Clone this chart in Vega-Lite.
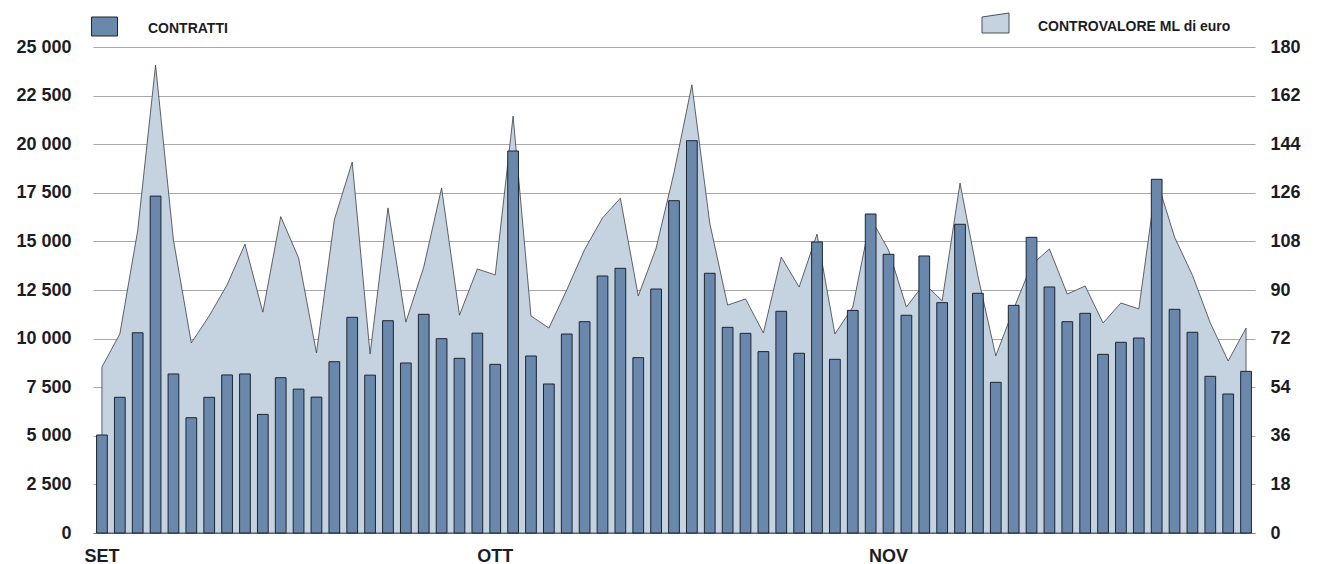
{
  "$schema": "https://vega.github.io/schema/vega-lite/v6.json",
  "autosize": {"type": "none"},
  "width": 1162,
  "height": 486,
  "padding": {"left": 93, "top": 47, "right": 64, "bottom": 31},
  "background": "#ffffff",
  "config": {
    "view": {"stroke": null},
    "font": "Liberation Sans",
    "axis": {"labelFont": "Liberation Sans", "labelFontWeight": "bold", "labelFontSize": 18, "labelColor": "#1a1d26"},
    "legend": {"labelFont": "Liberation Sans", "labelFontWeight": "bold", "labelFontSize": 14, "labelColor": "#1a1d26", "padding": 0, "labelLimit": 0}
  },
  "data": {
    "values": [
      {"n": 1, "contratti": 5040, "controvalore": 61.5},
      {"n": 2, "contratti": 6980, "controvalore": 73.7},
      {"n": 3, "contratti": 10300, "controvalore": 112},
      {"n": 4, "contratti": 17330, "controvalore": 173.3},
      {"n": 5, "contratti": 8180, "controvalore": 108.5},
      {"n": 6, "contratti": 5930, "controvalore": 70.4},
      {"n": 7, "contratti": 6980, "controvalore": 80.4},
      {"n": 8, "contratti": 8130, "controvalore": 91.9},
      {"n": 9, "contratti": 8180, "controvalore": 107},
      {"n": 10, "contratti": 6100, "controvalore": 81.8},
      {"n": 11, "contratti": 7990, "controvalore": 117.2},
      {"n": 12, "contratti": 7400, "controvalore": 101.9},
      {"n": 13, "contratti": 6990, "controvalore": 66.7},
      {"n": 14, "contratti": 8810, "controvalore": 116},
      {"n": 15, "contratti": 11095, "controvalore": 137.4},
      {"n": 16, "contratti": 8120, "controvalore": 66.3},
      {"n": 17, "contratti": 10920, "controvalore": 120.4},
      {"n": 18, "contratti": 8745, "controvalore": 78.1},
      {"n": 19, "contratti": 11250, "controvalore": 98.5},
      {"n": 20, "contratti": 9995, "controvalore": 127.8},
      {"n": 21, "contratti": 8985, "controvalore": 80.7},
      {"n": 22, "contratti": 10280, "controvalore": 97.8},
      {"n": 23, "contratti": 8675, "controvalore": 95.6},
      {"n": 24, "contratti": 19650, "controvalore": 154.4},
      {"n": 25, "contratti": 9105, "controvalore": 80.4},
      {"n": 26, "contratti": 7665, "controvalore": 75.9},
      {"n": 27, "contratti": 10235, "controvalore": 90},
      {"n": 28, "contratti": 10870, "controvalore": 105},
      {"n": 29, "contratti": 13220, "controvalore": 116.7},
      {"n": 30, "contratti": 13615, "controvalore": 124},
      {"n": 31, "contratti": 9020, "controvalore": 87.8},
      {"n": 32, "contratti": 12550, "controvalore": 105.5},
      {"n": 33, "contratti": 17095, "controvalore": 133.5},
      {"n": 34, "contratti": 20180, "controvalore": 166},
      {"n": 35, "contratti": 13360, "controvalore": 114.8},
      {"n": 36, "contratti": 10580, "controvalore": 84.4},
      {"n": 37, "contratti": 10270, "controvalore": 86.7},
      {"n": 38, "contratti": 9330, "controvalore": 74.1},
      {"n": 39, "contratti": 11405, "controvalore": 102.2},
      {"n": 40, "contratti": 9245, "controvalore": 91.1},
      {"n": 41, "contratti": 14970, "controvalore": 110.7},
      {"n": 42, "contratti": 8935, "controvalore": 73.7},
      {"n": 43, "contratti": 11450, "controvalore": 83.7},
      {"n": 44, "contratti": 16410, "controvalore": 116.7},
      {"n": 45, "contratti": 14335, "controvalore": 104.8},
      {"n": 46, "contratti": 11200, "controvalore": 83.7},
      {"n": 47, "contratti": 14250, "controvalore": 92.4},
      {"n": 48, "contratti": 11850, "controvalore": 86},
      {"n": 49, "contratti": 15880, "controvalore": 129.6},
      {"n": 50, "contratti": 12330, "controvalore": 95.2},
      {"n": 51, "contratti": 7750, "controvalore": 65.6},
      {"n": 52, "contratti": 11710, "controvalore": 83},
      {"n": 53, "contratti": 15210, "controvalore": 99.3},
      {"n": 54, "contratti": 12655, "controvalore": 105.2},
      {"n": 55, "contratti": 10870, "controvalore": 88.5},
      {"n": 56, "contratti": 11300, "controvalore": 91.5},
      {"n": 57, "contratti": 9190, "controvalore": 77.8},
      {"n": 58, "contratti": 9810, "controvalore": 85.2},
      {"n": 59, "contratti": 10030, "controvalore": 83},
      {"n": 60, "contratti": 18195, "controvalore": 131},
      {"n": 61, "contratti": 11505, "controvalore": 109.6},
      {"n": 62, "contratti": 10325, "controvalore": 95.5},
      {"n": 63, "contratti": 8060, "controvalore": 77.8},
      {"n": 64, "contratti": 7150, "controvalore": 63.7},
      {"n": 65, "contratti": 8315, "controvalore": 75.9}
    ]
  },
  "encoding": {
    "x": {
      "field": "n",
      "type": "ordinal",
      "scale": {"type": "band", "paddingInner": 0.4, "paddingOuter": 0.2},
      "axis": {
        "title": null,
        "values": [1, 23, 45],
        "labelExpr": "datum.value == 1 ? 'SET' : datum.value == 23 ? 'OTT' : 'NOV'",
        "labelAngle": 0,
        "ticks": false,
        "domain": true,
        "domainColor": "#7f7f7f",
        "domainWidth": 1,
        "labelPadding": 14,
        "grid": false
      }
    }
  },
  "layer": [
    {
      "mark": {"type": "area", "stroke": "#3a3f48", "strokeWidth": 0.8, "strokeJoin": "miter"},
      "encoding": {
        "y": {
          "field": "controvalore",
          "type": "quantitative",
          "scale": {"domain": [0, 180], "nice": false, "zero": true},
          "axis": {
            "orient": "right",
            "title": null,
            "values": [0, 18, 36, 54, 72, 90, 108, 126, 144, 162, 180],
            "grid": false,
            "domain": false,
            "ticks": false,
            "labelPadding": 15
          }
        },
        "fill": {
          "datum": "CONTROVALORE ML di euro",
          "type": "nominal",
          "scale": {"range": ["#c5d2df"]},
          "legend": {
            "title": null,
            "orient": "none",
            "legendX": 892,
            "legendY": -34.5,
            "symbolType": "M-1.35,-0.6L1.35,-1L1.35,1L-1.35,1Z",
            "symbolSize": 400,
            "symbolFillColor": "#d6dfe8",
            "symbolStrokeColor": "#4a4f58",
            "symbolStrokeWidth": 1,
            "labelOffset": 32,
            "encode": {"labels": {"update": {"dy": {"value": 4}}}}
          }
        }
      }
    },
    {
      "mark": {"type": "bar", "stroke": "#1c2533", "strokeWidth": 1},
      "encoding": {
        "y": {
          "field": "contratti",
          "type": "quantitative",
          "scale": {"domain": [0, 25000], "nice": false},
          "axis": {
            "orient": "left",
            "title": null,
            "values": [0, 2500, 5000, 7500, 10000, 12500, 15000, 17500, 20000, 22500, 25000],
            "labelExpr": "replace(format(datum.value, ','), ',', ' ')",
            "grid": true,
            "gridColor": "#a8a8a8",
            "gridWidth": 1,
            "domain": false,
            "ticks": false,
            "labelPadding": 22
          }
        },
        "fill": {
          "datum": "CONTRATTI",
          "type": "nominal",
          "scale": {"range": ["#6a88ab"]},
          "legend": {
            "title": null,
            "orient": "none",
            "legendX": 1,
            "legendY": -31,
            "symbolType": "M-1.3,-0.95L1.3,-0.95L1.3,0.95L-1.3,0.95Z",
            "symbolSize": 400,
            "symbolStrokeColor": "#1c2533",
            "symbolStrokeWidth": 1,
            "labelOffset": 33,
            "encode": {"labels": {"update": {"dy": {"value": 2.5}}}}
          }
        }
      }
    }
  ],
  "resolve": {"scale": {"y": "independent", "fill": "independent"}, "legend": {"fill": "independent"}}
}
